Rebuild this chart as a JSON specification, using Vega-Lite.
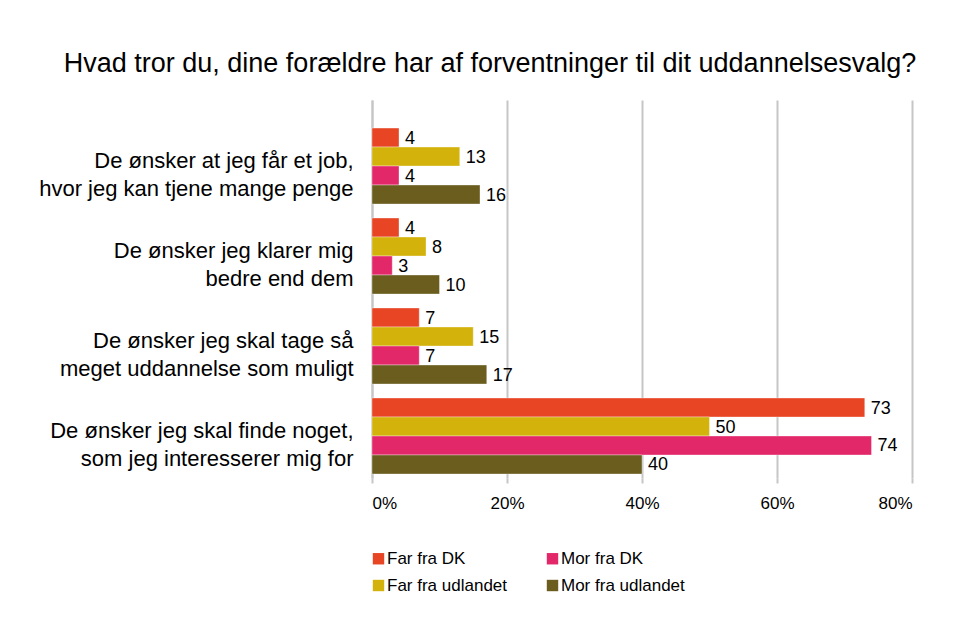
{
  "$schema": "https://vega.github.io/schema/vega-lite/v6.json",
  "width": 540,
  "height": 378,
  "autosize": {"type": "none"},
  "padding": {"left": 372, "top": 100, "right": 43, "bottom": 153},
  "background": "white",
  "config": {
    "font": "Liberation Sans",
    "view": {"stroke": null}
  },
  "title": {
    "text": "Hvad tror du, dine forældre har af forventninger til dit uddannelsesvalg?",
    "fontSize": 27,
    "fontWeight": "normal",
    "color": "#000000",
    "anchor": "middle",
    "frame": "group",
    "dx": -152,
    "offset": 22
  },
  "data": {
    "values": [
      {"kategori": "De ønsker at jeg får et job,|hvor jeg kan tjene mange penge", "serie": "Far fra DK", "vaerdi": 4},
      {"kategori": "De ønsker at jeg får et job,|hvor jeg kan tjene mange penge", "serie": "Far fra udlandet", "vaerdi": 13},
      {"kategori": "De ønsker at jeg får et job,|hvor jeg kan tjene mange penge", "serie": "Mor fra DK", "vaerdi": 4},
      {"kategori": "De ønsker at jeg får et job,|hvor jeg kan tjene mange penge", "serie": "Mor fra udlandet", "vaerdi": 16},
      {"kategori": "De ønsker jeg klarer mig|bedre end dem", "serie": "Far fra DK", "vaerdi": 4},
      {"kategori": "De ønsker jeg klarer mig|bedre end dem", "serie": "Far fra udlandet", "vaerdi": 8},
      {"kategori": "De ønsker jeg klarer mig|bedre end dem", "serie": "Mor fra DK", "vaerdi": 3},
      {"kategori": "De ønsker jeg klarer mig|bedre end dem", "serie": "Mor fra udlandet", "vaerdi": 10},
      {"kategori": "De ønsker jeg skal tage så|meget uddannelse som muligt", "serie": "Far fra DK", "vaerdi": 7},
      {"kategori": "De ønsker jeg skal tage så|meget uddannelse som muligt", "serie": "Far fra udlandet", "vaerdi": 15},
      {"kategori": "De ønsker jeg skal tage så|meget uddannelse som muligt", "serie": "Mor fra DK", "vaerdi": 7},
      {"kategori": "De ønsker jeg skal tage så|meget uddannelse som muligt", "serie": "Mor fra udlandet", "vaerdi": 17},
      {"kategori": "De ønsker jeg skal finde noget,|som jeg interesserer mig for", "serie": "Far fra DK", "vaerdi": 73},
      {"kategori": "De ønsker jeg skal finde noget,|som jeg interesserer mig for", "serie": "Far fra udlandet", "vaerdi": 50},
      {"kategori": "De ønsker jeg skal finde noget,|som jeg interesserer mig for", "serie": "Mor fra DK", "vaerdi": 74},
      {"kategori": "De ønsker jeg skal finde noget,|som jeg interesserer mig for", "serie": "Mor fra udlandet", "vaerdi": 40}
    ]
  },
  "encoding": {
    "y": {
      "field": "kategori",
      "type": "nominal",
      "sort": null,
      "title": null,
      "scale": {"paddingInner": 0.1556, "paddingOuter": 0.178, "align": 0.875},
      "axis": {
        "labelExpr": "split(datum.label, '|')",
        "labelFontSize": 22,
        "labelLineHeight": 28,
        "labelColor": "#000000",
        "labelPadding": 19,
        "labelOffset": -5,
        "labelLimit": 400,
        "ticks": false,
        "domain": true,
        "domainColor": "#c6c6c6",
        "domainWidth": 2,
        "grid": false
      }
    },
    "x": {
      "field": "vaerdi",
      "type": "quantitative",
      "title": null,
      "scale": {"domain": [0, 80], "nice": false},
      "axis": {
        "values": [0, 20, 40, 60, 80],
        "labelExpr": "datum.value + '%'",
        "labelFontSize": 17,
        "labelColor": "#000000",
        "labelPadding": 12,
        "domain": false,
        "ticks": true,
        "tickSize": 5,
        "tickColor": "#c6c6c6",
        "tickWidth": 2,
        "grid": true,
        "gridColor": "#c6c6c6",
        "gridWidth": 2
      }
    },
    "yOffset": {
      "field": "serie",
      "type": "nominal",
      "sort": ["Far fra DK", "Far fra udlandet", "Mor fra DK", "Mor fra udlandet"],
      "scale": {"paddingInner": 0, "paddingOuter": 0}
    }
  },
  "layer": [
    {
      "mark": {"type": "bar", "strokeWidth": 1, "stroke": "#ffffff", "strokeOpacity": 0.35},
      "encoding": {
        "color": {
          "field": "serie",
          "type": "nominal",
          "scale": {
            "domain": ["Far fra DK", "Far fra udlandet", "Mor fra DK", "Mor fra udlandet"],
            "range": ["#e84524", "#d3b20c", "#e3286a", "#6a5d1d"]
          },
          "legend": {
            "title": null,
            "orient": "none",
            "legendX": -2,
            "legendY": 450,
            "columns": 2,
            "columnPadding": 36,
            "rowPadding": 9,
            "symbolType": "square",
            "symbolSize": 130,
            "symbolStrokeWidth": 0,
            "symbolOpacity": 1,
            "labelFontSize": 17,
            "labelColor": "#000000",
            "labelOffset": 0,
            "labelLimit": 300
          }
        }
      }
    },
    {
      "mark": {"type": "text", "align": "left", "baseline": "middle", "dx": 6, "dy": 1, "fontSize": 18, "color": "#000000"},
      "encoding": {
        "text": {"field": "vaerdi", "type": "quantitative"}
      }
    }
  ]
}
